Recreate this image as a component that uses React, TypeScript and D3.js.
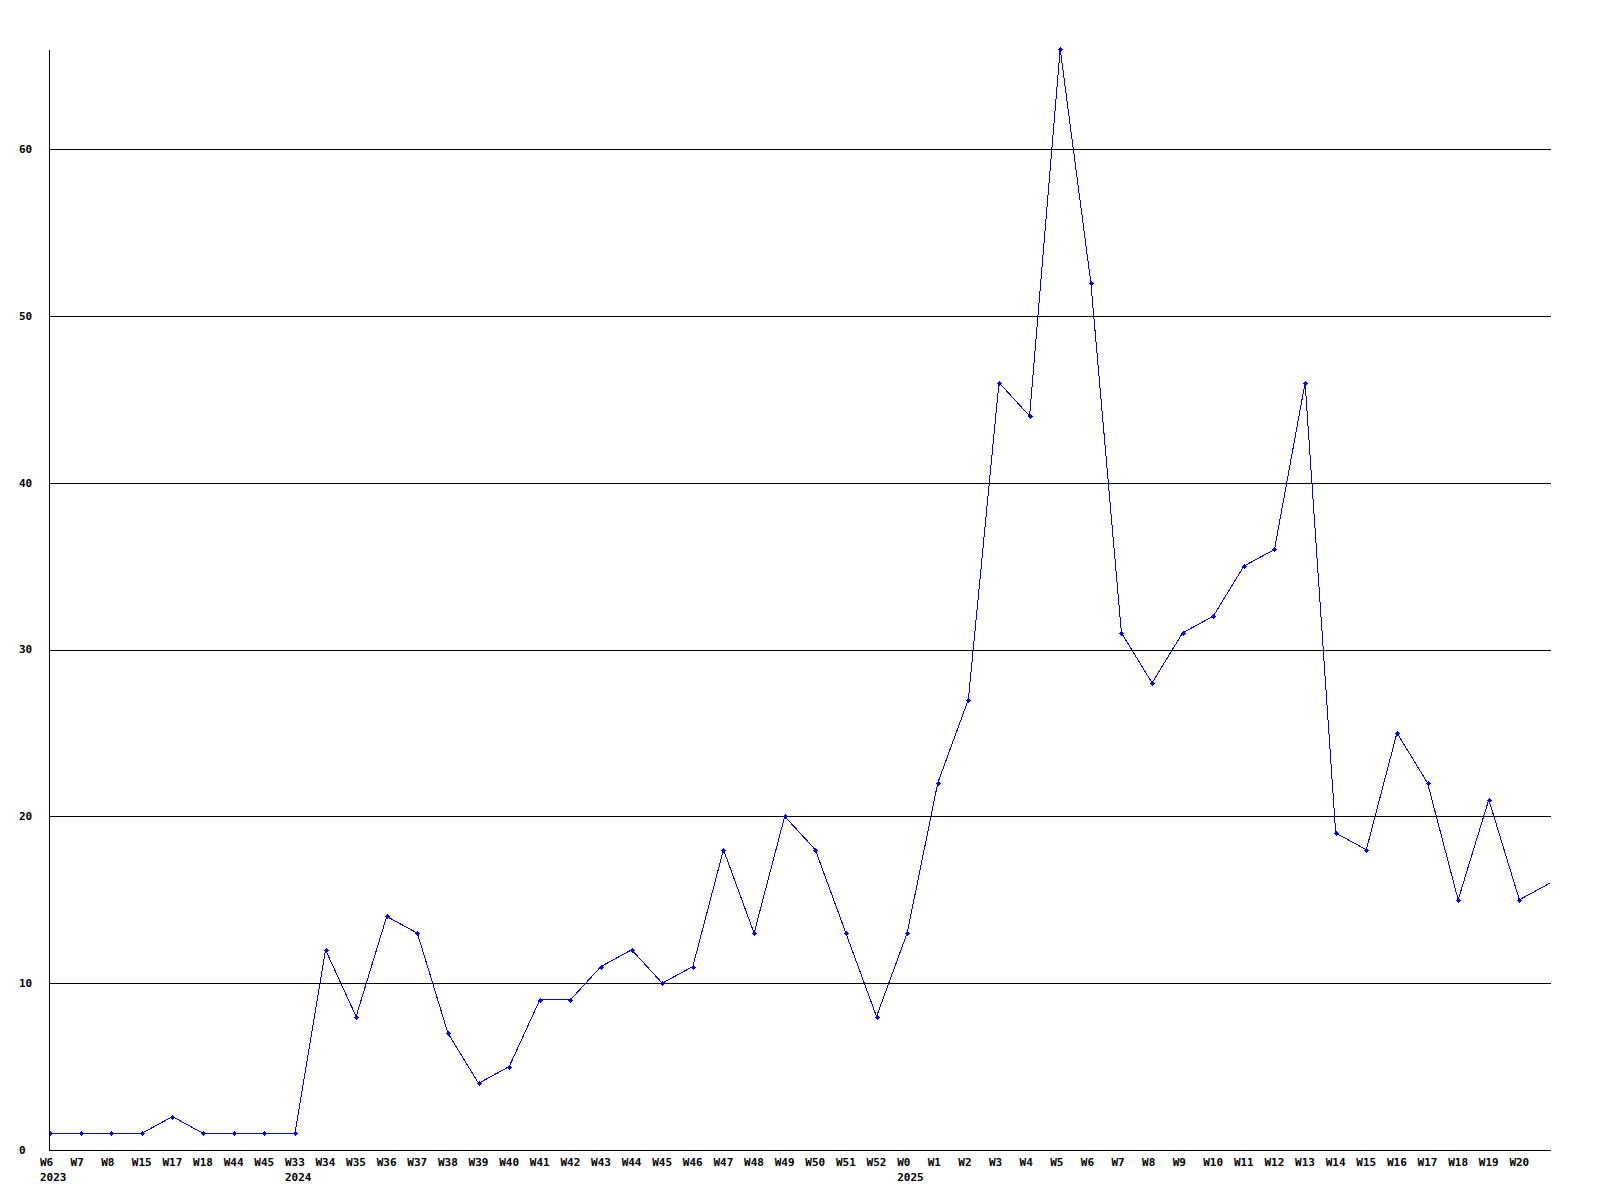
import React from "react";
import * as d3 from "d3";

const weekLabels = [
  "W6", "W7", "W8", "W15", "W17", "W18", "W44", "W45",
  "W33", "W34", "W35", "W36", "W37", "W38", "W39", "W40", "W41", "W42", "W43", "W44",
  "W45", "W46", "W47", "W48", "W49", "W50", "W51", "W52",
  "W0", "W1", "W2", "W3", "W4", "W5", "W6", "W7", "W8", "W9", "W10", "W11", "W12",
  "W13", "W14", "W15", "W16", "W17", "W18", "W19", "W20", "W21",
];

const values = [
  1, 1, 1, 1, 2, 1, 1, 1,
  1, 12, 8, 14, 13, 7, 4, 5, 9, 9, 11, 12,
  10, 11, 18, 13, 20, 18, 13, 8,
  13, 22, 27, 46, 44, 66, 52, 31, 28, 31, 32, 35, 36,
  46, 19, 18, 25, 22, 15, 21, 15, 16,
];

// year label placed under the first week of that year (index into weekLabels)
const yearLabels = ["2023", "2024", "2025"];
const yearStarts = [0, 8, 28];

const yTicks = [0, 10, 20, 30, 40, 50, 60];

// number of labelled/marked points (the last point is cut at the plot edge)
const shownCount = 49;

export default function App() {
  const W = 1600;
  const H = 1200;
  const left = 50;
  const right = 1550;
  const top = 49;
  const bottom = 1150;

  const x = d3.scaleLinear().domain([0, values.length - 1]).range([left, right]);
  const y = d3.scaleLinear().domain([0, d3.max(values) as number]).range([bottom, top]);

  const line = d3
    .line<number>()
    .x((_, i) => x(i))
    .y((d) => y(d));

  const font = "'DejaVu Sans Mono', 'Liberation Mono', monospace";

  return (
    <svg
      width={W}
      height={H}
      style={{ position: "absolute", left: 0, top: 0, background: "#fff" }}
      fontFamily={font}
      fontWeight="bold"
      fontSize={11}
    >
      <rect x={0} y={0} width={W} height={H} fill="#fff" />
      <defs>
        <clipPath id="plotClip">
          <rect x={left} y={top - 5} width={right - left + 0.5} height={bottom - top + 10} />
        </clipPath>
      </defs>
      {/* grid lines */}
      {yTicks
        .filter((t) => t > 0)
        .map((t) => (
          <line
            key={t}
            x1={left}
            x2={right + 1}
            y1={Math.round(y(t)) + 0.5}
            y2={Math.round(y(t)) + 0.5}
            stroke="#000"
            strokeWidth={1}
            shapeRendering="crispEdges"
          />
        ))}
      {/* axes */}
      <line x1={left - 0.5} x2={left - 0.5} y1={top + 1} y2={bottom + 1} stroke="#000" shapeRendering="crispEdges" />
      <line x1={left} x2={right + 1} y1={bottom + 0.5} y2={bottom + 0.5} stroke="#000" shapeRendering="crispEdges" />

      {/* y labels */}
      {yTicks.map((t) => (
        <text key={t} x={19} y={y(t)} dy="0.35em" fill="#000">
          {t}
        </text>
      ))}

      {/* x labels */}
      {weekLabels.slice(0, shownCount).map((lab, i) => (
        <text key={i} x={x(i) - 10} y={1166} fill="#000">
          {lab}
        </text>
      ))}
      {yearLabels.map((lab, k) => (
        <text key={lab} x={x(yearStarts[k]) - 10} y={1181} fill="#000">
          {lab}
        </text>
      ))}

      {/* series */}
      <g clipPath="url(#plotClip)">
        <path d={line(values) as string} fill="none" stroke="#0000ff" strokeWidth={1} shapeRendering="crispEdges" />
        {values.slice(0, shownCount).map((v, i) => {
          const cx = Math.round(x(i)) + 0.5;
          const cy = Math.round(y(v)) + 0.5;
          return (
            <path
              key={i}
              d={`M${cx - 2.5},${cy - 0.5}h5v1h-5ZM${cx - 0.5},${cy - 2.5}h1v5h-1ZM${cx - 1.5},${cy - 1.5}h3v3h-3Z`}
              fill="#0000ff"
              shapeRendering="crispEdges"
            />
          );
        })}
      </g>
    </svg>
  );
}
